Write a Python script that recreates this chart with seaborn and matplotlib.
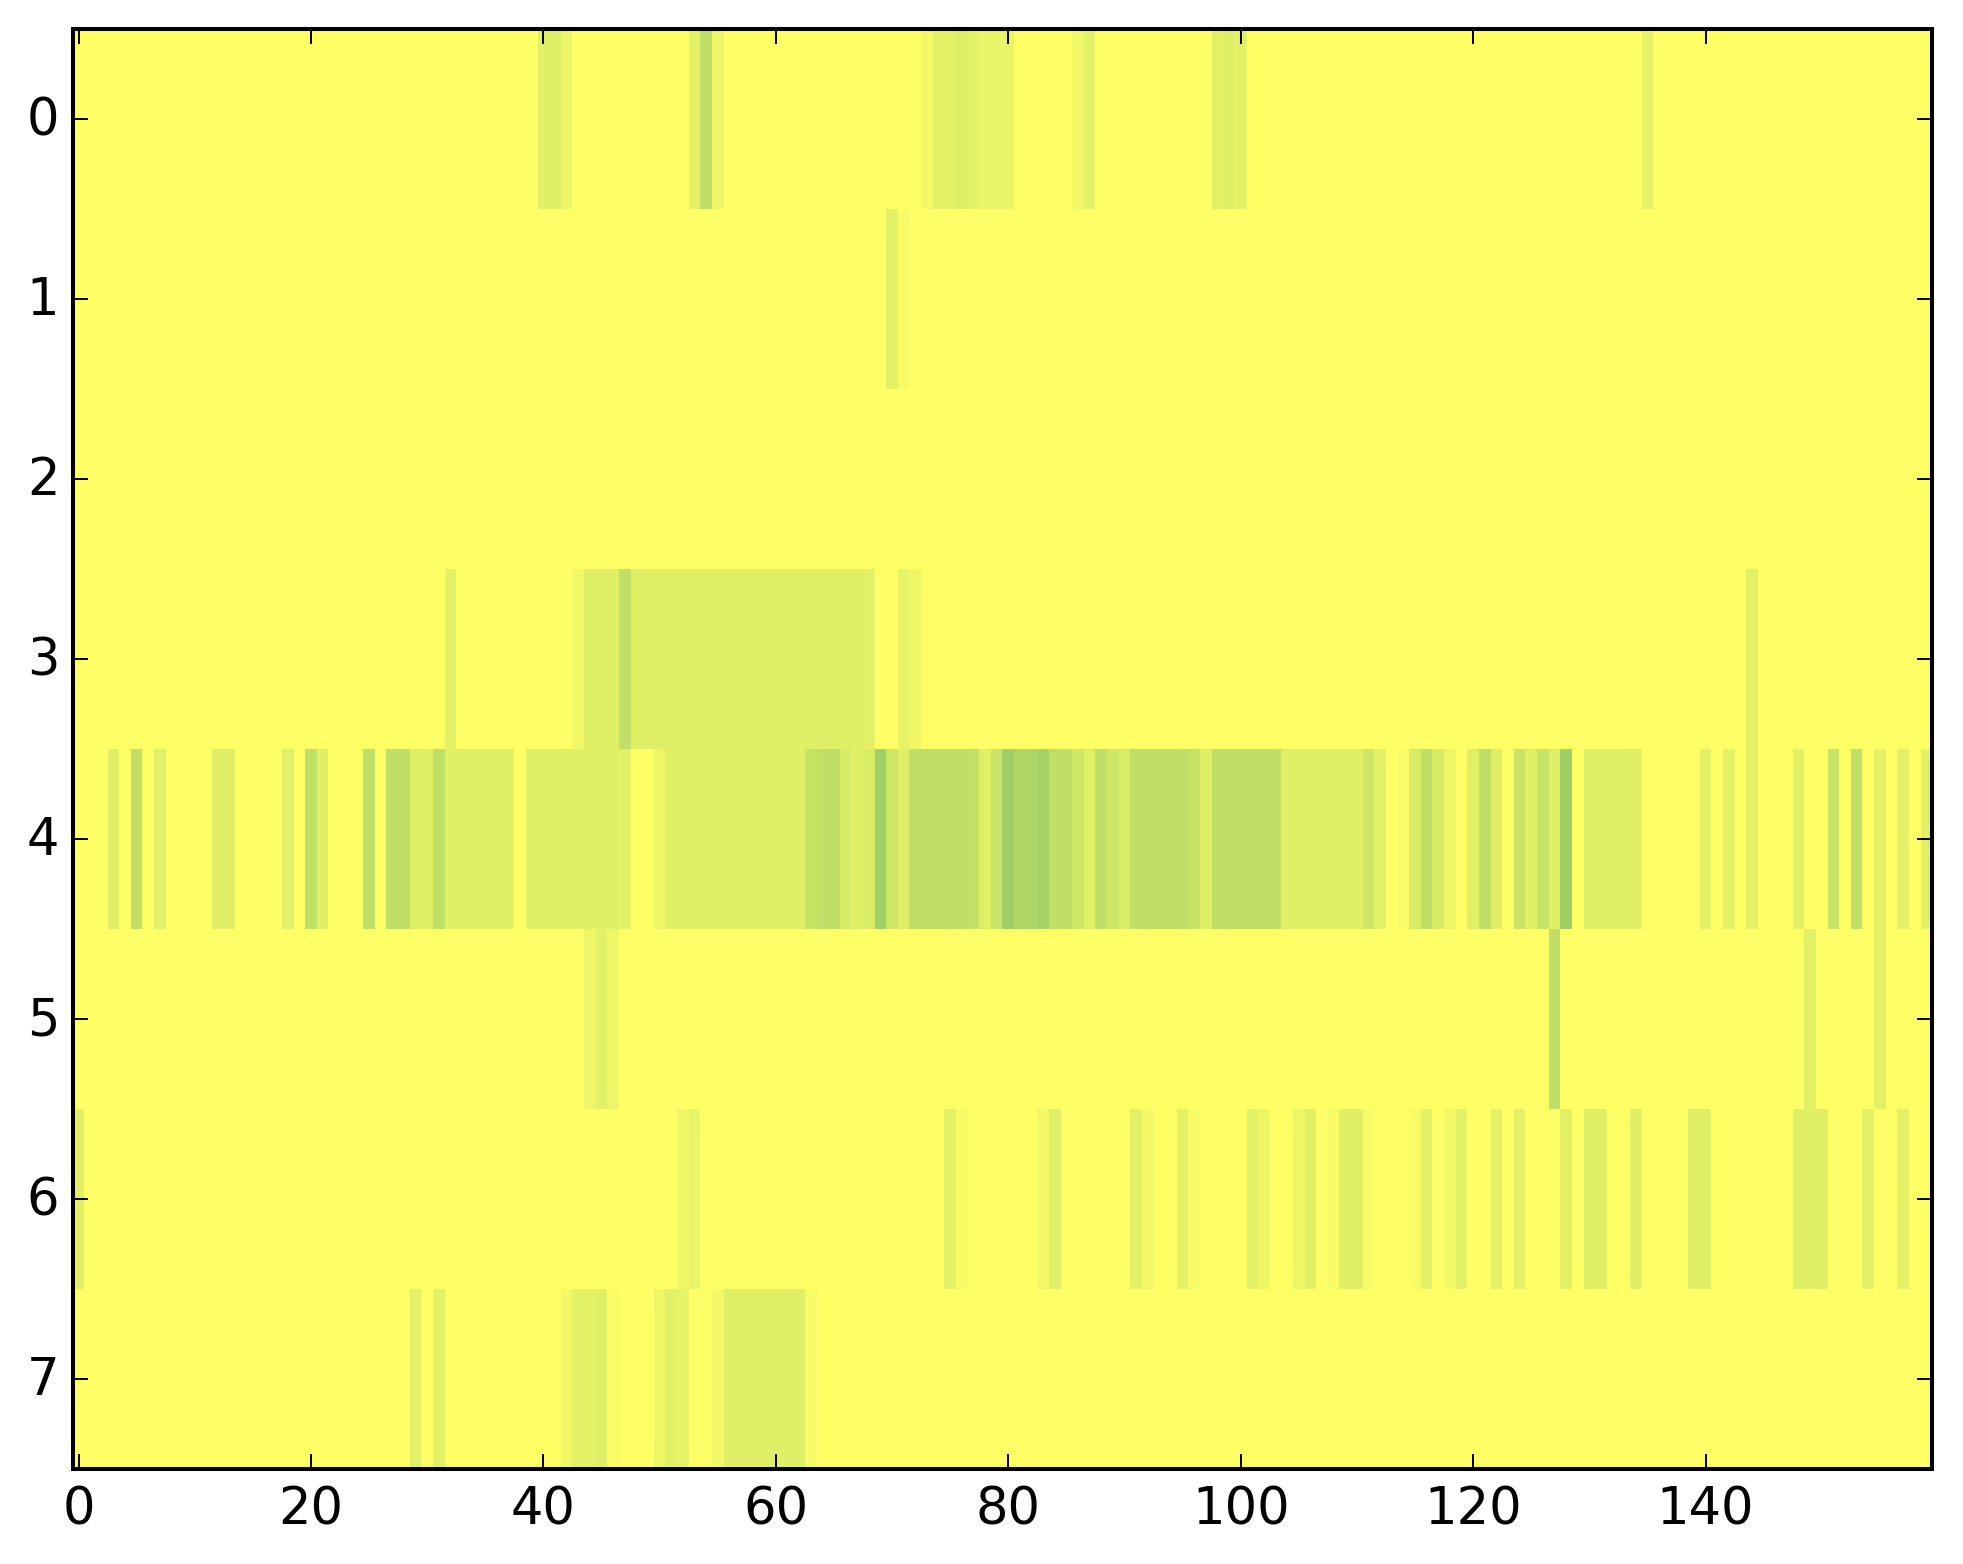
import numpy as np
import pandas as pd
import matplotlib
matplotlib.use('Agg')
import matplotlib.pyplot as plt
from matplotlib.transforms import ScaledTranslation
import seaborn as sns

# values, {column: value}, everything else is 0
row_0 = {40: 1, 41: 1, 42: .6, 52: .03, 53: .9, 54: 2, 55: .6, 73: .4, 74: .9, 75: .9, 76: 1.1, 77: .9,
         78: .7, 79: .7, 80: .7, 86: .4, 87: .9, 98: .9, 99: 1, 100: .9, 135: .8}
row_1 = {70: .9, 71: .3}
row_2 = {}
row_3 = {32: .9, 43: .4, 44: 1, 45: 1, 46: 1, 47: 2, 48: 1, 49: 1, 50: 1, 51: 1, 52: 1, 53: 1, 54: 1, 55: 1,
         56: 1, 57: 1, 58: 1, 59: 1, 60: 1, 61: 1, 62: 1, 63: 1, 64: 1, 65: 1, 66: 1, 67: 1, 68: .9,
         71: .8, 72: .5, 144: .9}
row_4 = {3: 1, 5: 2, 7: 1, 12: 1, 13: 1, 18: 1, 20: 2, 21: 1, 25: 2, 27: 2, 28: 2, 29: 1, 30: 1, 31: 2,
         32: 1, 33: 1, 34: 1, 35: 1, 36: 1, 37: 1, 39: 1, 40: 1, 41: 1, 42: 1, 43: 1, 44: 1, 45: 1, 46: 1,
         47: .9, 50: .5, 51: 1, 52: 1, 53: 1, 54: 1, 55: 1, 56: 1, 57: 1, 58: 1, 59: 1, 60: 1, 61: 1, 62: 1,
         63: 1.8, 64: 2, 65: 2, 66: 1.3, 67: 1, 68: 1.2, 69: 3, 70: 1.5, 71: 1, 72: 2, 73: 2, 74: 2, 75: 2,
         76: 2, 77: 1.9, 78: 1, 79: 1.7, 80: 3, 81: 2.5, 82: 2.6, 83: 2.8, 84: 2, 85: 2, 86: 1.5, 87: 1,
         88: 2, 89: 1.5, 90: 1.2, 91: 2, 92: 2, 93: 2, 94: 2, 95: 2, 96: 1.8, 97: 1, 98: 2, 99: 2, 100: 2,
         101: 2, 102: 2, 103: 2, 104: 1, 105: 1, 106: 1, 107: 1, 108: 1, 109: 1, 110: 1, 111: 1.5, 112: .9,
         114: .2, 115: 1.3, 116: 2, 117: 1.3, 118: .6, 120: 1, 121: 2, 122: 1, 124: 1.7, 125: 1, 126: 1.8,
         127: 1, 128: 3, 130: 1, 131: 1, 132: 1, 133: 1, 134: 1, 140: .9, 142: .9, 144: .9, 148: .9,
         151: 1.8, 153: 2, 155: .9, 157: .9, 159: .9}
row_5 = {44: .6, 45: .9, 46: .5, 127: 2, 149: .9, 155: .9}
row_6 = {0: .9, 52: .5, 53: .7, 75: .9, 76: .3, 83: .4, 84: 1, 85: .05, 91: .9, 92: .4, 95: .9, 96: .3,
         101: .9, 102: .6, 105: .6, 106: .9, 107: .05, 108: .25, 109: 1, 110: 1, 111: .3, 115: .3, 116: .9,
         118: .4, 119: .9, 122: .9, 124: .9, 128: .9, 130: 1, 131: 1, 134: 1, 139: 1, 140: 1, 148: 1,
         149: 1, 150: 1, 154: .9, 157: .9}
row_7 = {29: .9, 31: .9, 42: .4, 43: .9, 44: .9, 45: 1, 46: .2, 50: .6, 51: .9, 52: .8, 55: .4, 56: 1,
         57: 1, 58: 1, 59: 1, 60: 1, 61: 1, 62: 1, 63: .25}

rows = [row_0, row_1, row_2, row_3, row_4, row_5, row_6, row_7]
n_cols = 160
x_ticks = list(range(0, 160, 20))
y_ticks = list(range(8))

df = pd.DataFrame([[r.get(c, 0) for c in range(n_cols)] for r in rows])

W, H = 1963, 1564
fig = plt.figure(figsize=(W / 200, H / 200), dpi=200)
ax = fig.add_axes([72.7 / W, 1 - 1468.5 / H, 1859.5 / W, 1439.8 / H])

sns.heatmap(df, ax=ax, cmap='summer_r', vmin=0, vmax=8, cbar=False,
            xticklabels=False, yticklabels=False, linewidths=0)

# heatmap cells are centred on i + 0.5
ax.set_xticks(np.array(x_ticks) + 0.5)
ax.set_xticklabels(x_ticks)
ax.set_yticks(np.array(y_ticks) + 0.5)
ax.set_yticklabels(y_ticks, rotation=0, va='center')

ax.tick_params(direction='in', top=True, right=True, bottom=True, left=True,
               length=5.3, width=0.7, labelsize=18.4, color='black')
ax.tick_params(axis='x', pad=6.1)
ax.tick_params(axis='y', pad=4.8)

# nudge the y labels down a bit so they sit on the ticks
nudge = ScaledTranslation(0, -2.5 / 200, fig.dpi_scale_trans)
for lbl in ax.get_yticklabels():
    lbl.set_transform(lbl.get_transform() + nudge)

for s in ax.spines.values():
    s.set_visible(True)
    s.set_linewidth(1.45)
    s.set_color('black')

fig.savefig('out.png', dpi=200, facecolor='white')
